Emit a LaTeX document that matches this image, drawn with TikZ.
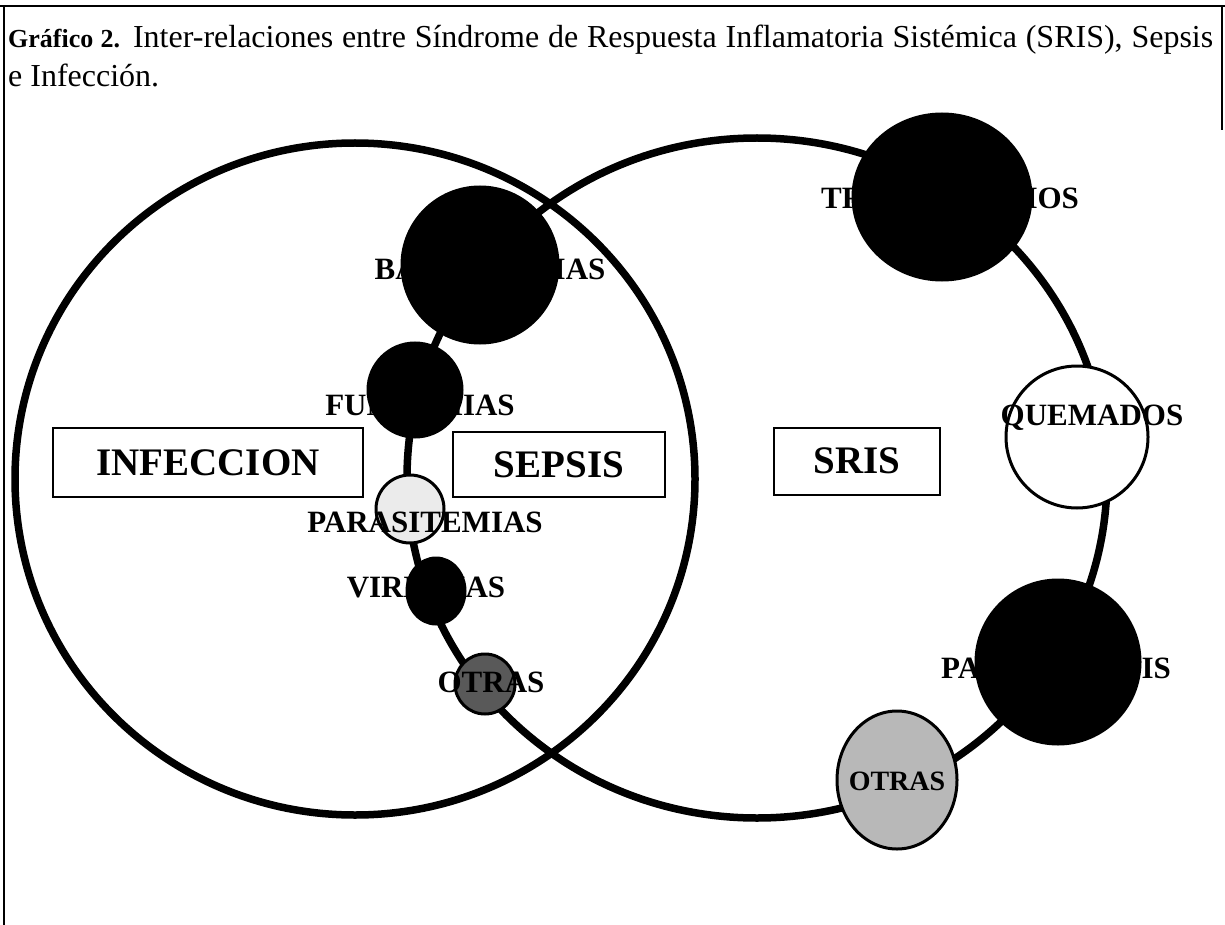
\documentclass[tikz,border=0pt]{standalone}
\usepackage{fontspec}
\setmainfont{Liberation Serif}
\usetikzlibrary{positioning,shapes.geometric}

\begin{document}
\begin{tikzpicture}[x=1pt,y=-1pt,
	anillo/.style={line width=7.5pt},
	marco/.style={line width=2pt},
	caja/.style={draw,line width=2pt,fill=white,inner sep=0pt,font=\fontsize{39}{39}\selectfont\bfseries},
	bola/.style={draw,circle,line width=3pt,inner sep=0pt},
	etiqueta/.style={anchor=base,inner sep=0pt,font=\fontsize{31}{31}\selectfont\bfseries}]
	\useasboundingbox (0,0) rectangle (1225,925);

	\draw[marco] (0,6) -- (1225,6);
	\draw[marco] (4,6) -- (4,925);
	\draw[marco] (1222,6) -- (1222,130);

	\draw
	node[anchor=base west,inner sep=0pt,font=\fontsize{32}{32}\selectfont] (tit1) at (8,48)
		{\makebox[1205pt][s]{{\fontsize{26}{26}\selectfont\bfseries Gráfico 2.} Inter-relaciones entre Síndrome de Respuesta Inflamatoria Sistémica (SRIS), Sepsis}}
	node[anchor=base west,inner sep=0pt,font=\fontsize{32}{32}\selectfont] (tit2) at (8,87) {e Infección.};

	\draw[anillo] (355,479) ellipse (340pt and 336pt);
	\draw[anillo] (757,478) ellipse (350pt and 340pt);

	\draw
	node[caja,minimum width=310pt,minimum height=69pt] (infeccion) at (208,462.5) {INFECCION}
	node[caja,minimum width=212pt,minimum height=65pt] (sepsis) at (559,464.5) {SEPSIS}
	node[caja,minimum width=166pt,minimum height=67pt] (sris) at (857,461) {SRIS};

	\draw
	node[bola,fill=black,minimum size=156pt] (bact) at (480,265) {}
	node[bola,fill=black,minimum size=94pt] (fung) at (415,390) {}
	node[bola,fill=black!8,minimum size=68pt] (parasit) at (410,509) {}
	node[bola,ellipse,fill=black,minimum width=58pt,minimum height=66pt] (viremia) at (436,591) {}
	node[bola,fill=black!65,minimum size=60pt] (otrasA) at (485,684) {};

	\draw
	node[bola,ellipse,fill=black,minimum width=178pt,minimum height=166pt] (trauma) at (942,197) {}
	node[bola,fill=white,minimum size=142pt] (quem) at (1077,437) {}
	node[bola,fill=black,minimum size=164pt] (pancrea) at (1058,662) {}
	node[bola,ellipse,fill=black!28,minimum width=120pt,minimum height=138pt] (otrasB) at (897,780) {};

	\draw
	node[etiqueta] (lbact) at (490,279) {BACTEREMIAS}
	node[etiqueta] (lfung) at (420,415) {FUNGEMIAS}
	node[etiqueta] (lparasit) at (425,532) {PARASITEMIAS}
	node[etiqueta] (lviremia) at (426,597) {VIREMIAS}
	node[etiqueta] (lotrasA) at (491,692) {OTRAS};

	\draw
	node[etiqueta] (ltrauma) at (950,209) {TRAUMATISMOS}
	node[etiqueta] (lquem) at (1092,425) {QUEMADOS}
	node[etiqueta] (lpancrea) at (1056,678) {PANCREATITIS}
	node[etiqueta,font=\fontsize{28}{28}\selectfont\bfseries] (lotrasB) at (897,790) {OTRAS};
\end{tikzpicture}
\end{document}
